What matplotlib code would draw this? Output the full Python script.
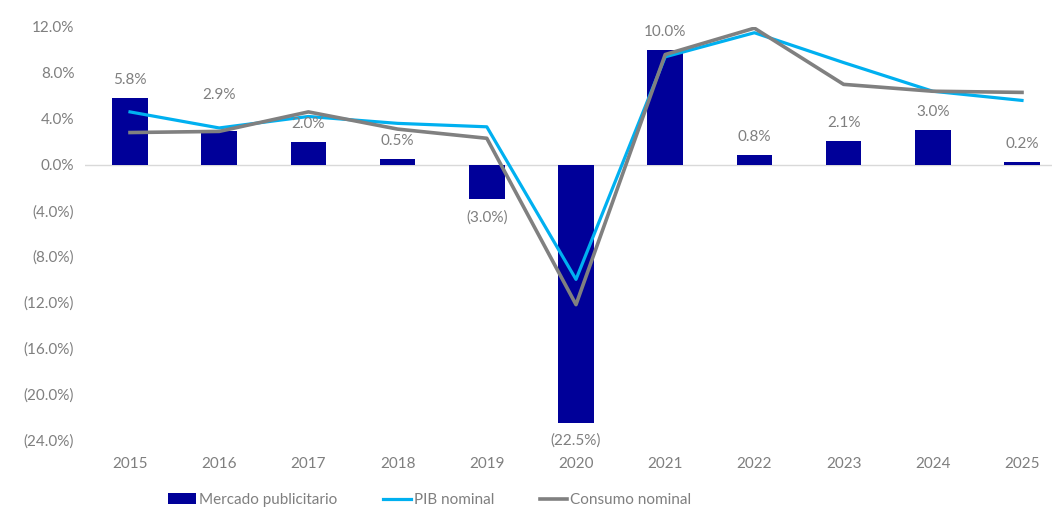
import matplotlib

matplotlib.use("Agg")
import matplotlib.pyplot as plt
import numpy as np
from matplotlib.ticker import FuncFormatter

YEARS = ["2015", "2016", "2017", "2018", "2019", "2020", "2021", "2022", "2023", "2024", "2025"]
MERCADO = [5.8, 2.9, 2.0, 0.5, -3.0, -22.5, 10.0, 0.8, 2.1, 3.0, 0.2]
PIB = [4.6, 3.2, 4.2, 3.6, 3.3, -10.0, 9.4, 11.5, 8.9, 6.4, 5.6]
CONSUMO = [2.8, 2.9, 4.6, 3.1, 2.3, -12.2, 9.6, 11.9, 7.0, 6.4, 6.3]

COLOR_BAR = "#000099"
COLOR_PIB = "#00B0F0"
COLOR_CONS = "#808080"
COLOR_TEXT = "#7f7f7f"

plt.rcParams["font.family"] = ["Lato", "DejaVu Sans"]


def pct(v):
    if v < 0:
        return f"({abs(v):.1f}%)"
    return f"{v:.1f}%"


fig = plt.figure(figsize=(10.52, 5.12), dpi=100)
# the source image is cropped on the right, so the axes run past the figure edge
ax = fig.add_axes([85.4 / 1052, 1 - 440 / 512, (1066.6 - 85.4) / 1052, (440 - 27) / 512])

x = np.arange(len(YEARS))
h_bar = ax.bar(x, MERCADO, width=0.4, color=COLOR_BAR, zorder=2)
(h_pib,) = ax.plot(x, PIB, color=COLOR_PIB, lw=2.3, zorder=3)
(h_cons,) = ax.plot(x, CONSUMO, color=COLOR_CONS, lw=2.6, zorder=4)

ax.axhline(0, color="#d9d9d9", lw=1, zorder=1)

for i, v in enumerate(MERCADO):
    if v >= 0:
        off = 26 if YEARS[i] == "2016" else 13
    else:
        off = -13
    ax.annotate(pct(v), (i, v), xytext=(0, off), textcoords="offset points",
                ha="center", va="center", fontsize=11, color=COLOR_TEXT)

ax.set_xlim(-0.5, len(YEARS) - 0.5)
ax.set_ylim(-24, 12)
ax.set_yticks(np.arange(-24, 13, 4))
ax.yaxis.set_major_formatter(FuncFormatter(lambda v, _: pct(v)))
ax.set_xticks(x)
ax.set_xticklabels(YEARS)
ax.tick_params(axis="both", length=0, labelsize=11, labelcolor=COLOR_TEXT)
ax.tick_params(axis="x", pad=12)
ax.tick_params(axis="y", pad=8)
for s in ax.spines.values():
    s.set_visible(False)

fig.legend([h_bar, h_pib, h_cons], ["Mercado publicitario", "PIB nominal", "Consumo nominal"],
           loc="center", bbox_to_anchor=(430 / 1052, 1 - 500 / 512), ncol=3,
           frameon=False, fontsize=11, labelcolor=COLOR_TEXT, columnspacing=3.0,
           handlelength=1.8, handletextpad=0.2)

fig.savefig("out.png", dpi=100)
